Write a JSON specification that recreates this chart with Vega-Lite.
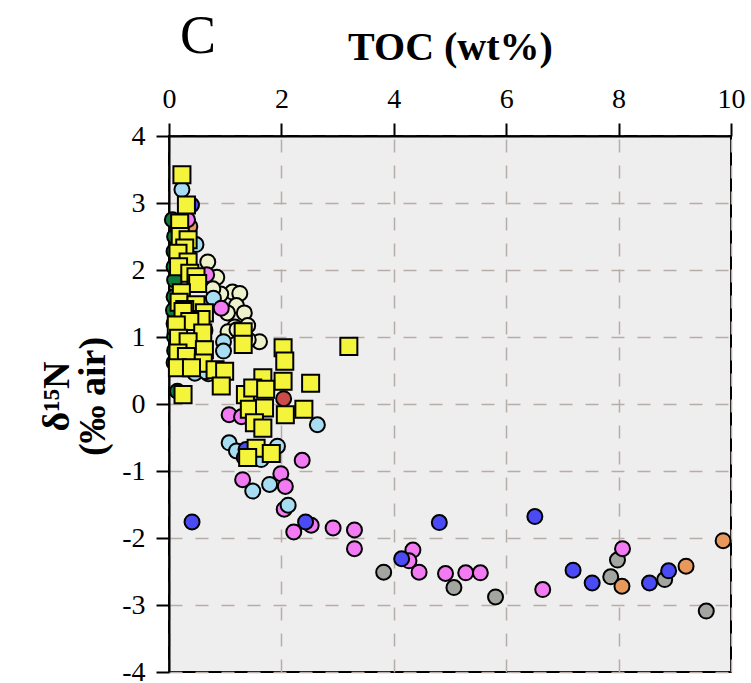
{
  "$schema": "https://vega.github.io/schema/vega-lite/v6.json",
  "width": 562,
  "height": 536,
  "autosize": "none",
  "padding": {"left": 169, "top": 136, "right": 20, "bottom": 11},
  "background": "white",
  "config": {
    "font": "Liberation Serif",
    "view": {"fill": "#eeeeee", "stroke": "black", "strokeWidth": 2}
  },
  "title": {
    "text": "C",
    "anchor": "start",
    "frame": "group",
    "font": "Liberation Serif",
    "fontSize": 54,
    "fontWeight": "normal",
    "color": "black",
    "dx": 11,
    "dy": 41
  },
  "datasets": {
    "circles": [
      {"toc": 0.69, "d15n": 2.12, "series": "P"},
      {"toc": 0.85, "d15n": 1.89, "series": "P"},
      {"toc": 1.13, "d15n": 1.67, "series": "P"},
      {"toc": 1.26, "d15n": 1.65, "series": "P"},
      {"toc": 0.92, "d15n": 1.64, "series": "P"},
      {"toc": 1.20, "d15n": 1.47, "series": "P"},
      {"toc": 1.34, "d15n": 1.36, "series": "P"},
      {"toc": 1.04, "d15n": 1.36, "series": "P"},
      {"toc": 1.17, "d15n": 1.15, "series": "P"},
      {"toc": 1.40, "d15n": 1.17, "series": "P"},
      {"toc": 1.61, "d15n": 0.93, "series": "P"},
      {"toc": 1.05, "d15n": 1.08, "series": "P"},
      {"toc": 1.21, "d15n": 1.11, "series": "P"},
      {"toc": 1.41, "d15n": 0.96, "series": "P"},
      {"toc": 0.78, "d15n": 1.72, "series": "P"},
      {"toc": 0.55, "d15n": 0.62, "series": "P"},
      {"toc": 0.70, "d15n": 0.45, "series": "P"},
      {"toc": 3.82, "d15n": -2.51, "series": "G"},
      {"toc": 5.07, "d15n": -2.74, "series": "G"},
      {"toc": 5.81, "d15n": -2.88, "series": "G"},
      {"toc": 7.86, "d15n": -2.58, "series": "G"},
      {"toc": 7.98, "d15n": -2.33, "series": "G"},
      {"toc": 8.82, "d15n": -2.62, "series": "G"},
      {"toc": 9.56, "d15n": -3.09, "series": "G"},
      {"toc": 0.37, "d15n": 2.65, "series": "O"},
      {"toc": 9.86, "d15n": -2.04, "series": "O"},
      {"toc": 9.20, "d15n": -2.42, "series": "O"},
      {"toc": 8.06, "d15n": -2.72, "series": "O"},
      {"toc": 0.23, "d15n": 3.20, "series": "L"},
      {"toc": 0.48, "d15n": 2.38, "series": "L"},
      {"toc": 0.79, "d15n": 1.58, "series": "L"},
      {"toc": 0.97, "d15n": 0.93, "series": "L"},
      {"toc": 0.97, "d15n": 0.79, "series": "L"},
      {"toc": 0.46, "d15n": 0.46, "series": "L"},
      {"toc": 0.66, "d15n": 0.48, "series": "L"},
      {"toc": 2.64, "d15n": -0.31, "series": "L"},
      {"toc": 1.07, "d15n": -0.58, "series": "L"},
      {"toc": 1.93, "d15n": -0.63, "series": "L"},
      {"toc": 1.64, "d15n": -0.83, "series": "L"},
      {"toc": 1.49, "d15n": -1.30, "series": "L"},
      {"toc": 1.79, "d15n": -1.20, "series": "L"},
      {"toc": 1.20, "d15n": -0.70, "series": "L"},
      {"toc": 0.67, "d15n": 1.93, "series": "K"},
      {"toc": 0.93, "d15n": 1.43, "series": "K"},
      {"toc": 0.64, "d15n": 1.10, "series": "K"},
      {"toc": 0.33, "d15n": 2.75, "series": "K"},
      {"toc": 1.07, "d15n": -0.16, "series": "K"},
      {"toc": 1.29, "d15n": -0.19, "series": "K"},
      {"toc": 1.34, "d15n": -0.80, "series": "K"},
      {"toc": 2.37, "d15n": -0.84, "series": "K"},
      {"toc": 1.31, "d15n": -1.13, "series": "K"},
      {"toc": 1.99, "d15n": -1.04, "series": "K"},
      {"toc": 2.07, "d15n": -1.23, "series": "K"},
      {"toc": 2.05, "d15n": -1.57, "series": "K"},
      {"toc": 2.53, "d15n": -1.81, "series": "K"},
      {"toc": 2.22, "d15n": -1.91, "series": "K"},
      {"toc": 2.92, "d15n": -1.85, "series": "K"},
      {"toc": 3.30, "d15n": -1.88, "series": "K"},
      {"toc": 3.30, "d15n": -2.16, "series": "K"},
      {"toc": 4.34, "d15n": -2.18, "series": "K"},
      {"toc": 4.27, "d15n": -2.34, "series": "K"},
      {"toc": 4.45, "d15n": -2.51, "series": "K"},
      {"toc": 4.92, "d15n": -2.53, "series": "K"},
      {"toc": 5.28, "d15n": -2.52, "series": "K"},
      {"toc": 5.54, "d15n": -2.52, "series": "K"},
      {"toc": 6.65, "d15n": -2.77, "series": "K"},
      {"toc": 8.07, "d15n": -2.16, "series": "K"},
      {"toc": 2.12, "d15n": -1.51, "series": "L"},
      {"toc": 0.40, "d15n": 2.97, "series": "B"},
      {"toc": 1.37, "d15n": -0.68, "series": "B"},
      {"toc": 0.41, "d15n": -1.76, "series": "B"},
      {"toc": 2.43, "d15n": -1.76, "series": "B"},
      {"toc": 4.81, "d15n": -1.77, "series": "B"},
      {"toc": 6.51, "d15n": -1.68, "series": "B"},
      {"toc": 4.14, "d15n": -2.31, "series": "B"},
      {"toc": 7.19, "d15n": -2.48, "series": "B"},
      {"toc": 7.53, "d15n": -2.67, "series": "B"},
      {"toc": 8.55, "d15n": -2.67, "series": "B"},
      {"toc": 8.89, "d15n": -2.49, "series": "B"},
      {"toc": 0.06, "d15n": 2.75, "series": "D"},
      {"toc": 0.10, "d15n": 2.50, "series": "D"},
      {"toc": 0.09, "d15n": 2.28, "series": "D"},
      {"toc": 0.09, "d15n": 2.05, "series": "D"},
      {"toc": 0.10, "d15n": 1.85, "series": "D"},
      {"toc": 0.09, "d15n": 1.60, "series": "D"},
      {"toc": 0.08, "d15n": 1.40, "series": "D"},
      {"toc": 0.09, "d15n": 1.20, "series": "D"},
      {"toc": 0.10, "d15n": 1.00, "series": "D"},
      {"toc": 0.10, "d15n": 0.80, "series": "D"},
      {"toc": 0.09, "d15n": 0.62, "series": "D"},
      {"toc": 0.15, "d15n": 0.19, "series": "D"},
      {"toc": 2.04, "d15n": 0.08, "series": "R"}
    ],
    "squares": [
      {"toc": 0.23, "d15n": 3.42},
      {"toc": 0.31, "d15n": 2.97},
      {"toc": 0.19, "d15n": 2.70},
      {"toc": 0.20, "d15n": 2.50},
      {"toc": 0.34, "d15n": 2.45},
      {"toc": 0.28, "d15n": 2.33},
      {"toc": 0.16, "d15n": 2.25},
      {"toc": 0.34, "d15n": 2.12},
      {"toc": 0.17, "d15n": 2.05},
      {"toc": 0.37, "d15n": 1.95},
      {"toc": 0.48, "d15n": 1.90},
      {"toc": 0.51, "d15n": 1.80},
      {"toc": 0.22, "d15n": 1.66},
      {"toc": 0.18, "d15n": 1.52},
      {"toc": 0.48, "d15n": 1.48},
      {"toc": 0.28, "d15n": 1.41},
      {"toc": 0.25, "d15n": 1.38},
      {"toc": 0.63, "d15n": 1.36},
      {"toc": 0.57, "d15n": 1.26},
      {"toc": 0.37, "d15n": 1.23},
      {"toc": 0.13, "d15n": 1.18},
      {"toc": 0.60, "d15n": 1.06},
      {"toc": 0.17, "d15n": 0.98},
      {"toc": 0.34, "d15n": 0.93},
      {"toc": 0.63, "d15n": 0.81},
      {"toc": 0.16, "d15n": 0.76},
      {"toc": 0.31, "d15n": 0.71},
      {"toc": 0.61, "d15n": 0.61},
      {"toc": 0.15, "d15n": 0.54},
      {"toc": 0.40, "d15n": 0.54},
      {"toc": 0.82, "d15n": 0.51},
      {"toc": 0.99, "d15n": 0.49},
      {"toc": 0.93, "d15n": 0.27},
      {"toc": 1.32, "d15n": 1.08},
      {"toc": 1.32, "d15n": 0.89},
      {"toc": 0.25, "d15n": 0.14},
      {"toc": 1.36, "d15n": 0.14},
      {"toc": 2.03, "d15n": 0.84},
      {"toc": 2.06, "d15n": 0.64},
      {"toc": 3.20, "d15n": 0.86},
      {"toc": 1.67, "d15n": 0.39},
      {"toc": 2.03, "d15n": 0.34},
      {"toc": 2.52, "d15n": 0.31},
      {"toc": 1.49, "d15n": 0.24},
      {"toc": 1.72, "d15n": 0.22},
      {"toc": 1.43, "d15n": -0.08},
      {"toc": 1.70, "d15n": -0.06},
      {"toc": 2.07, "d15n": -0.16},
      {"toc": 2.40, "d15n": -0.08},
      {"toc": 1.52, "d15n": -0.28},
      {"toc": 1.67, "d15n": -0.36},
      {"toc": 1.55, "d15n": -0.66},
      {"toc": 1.82, "d15n": -0.74},
      {"toc": 1.40, "d15n": -0.80}
    ]
  },
  "encoding": {
    "x": {
      "field": "toc",
      "type": "quantitative",
      "scale": {"domain": [0, 10], "nice": false, "zero": false},
      "axis": {
        "orient": "top",
        "title": "TOC (wt%)",
        "values": [0, 2, 4, 6, 8, 10],
        "labelExpr": "'' + datum.value",
        "titleFont": "Liberation Serif",
        "titleFontSize": 40,
        "titleFontWeight": "bold",
        "titleColor": "black",
        "titlePadding": 18,
        "labelFont": "Liberation Serif",
        "labelFontSize": 28,
        "labelColor": "black",
        "labelPadding": 10,
        "labelFlush": false,
        "labelOverlap": false,
        "tickSize": 13,
        "tickWidth": 2,
        "tickColor": "black",
        "domainColor": "black",
        "domainWidth": 2,
        "grid": true,
        "gridColor": "#b7aca8",
        "gridWidth": 1.5,
        "gridDash": [13, 13]
      }
    },
    "y": {
      "field": "d15n",
      "type": "quantitative",
      "scale": {"domain": [-4, 4], "nice": false, "zero": false},
      "axis": {
        "orient": "left",
        "title": ["δ¹⁵N", "(‰ air)"],
        "values": [-4, -3, -2, -1, 0, 1, 2, 3, 4],
        "labelExpr": "'' + datum.value",
        "titleFont": "Liberation Serif",
        "titleFontSize": 38,
        "titleFontWeight": "bold",
        "titleColor": "black",
        "titlePadding": 9,
        "titleLineHeight": 36,
        "titleY": 260,
        "labelFont": "Liberation Serif",
        "labelFontSize": 28,
        "labelColor": "black",
        "labelPadding": 11,
        "labelFlush": false,
        "labelOverlap": false,
        "tickSize": 13,
        "tickWidth": 2,
        "tickColor": "black",
        "domainColor": "black",
        "domainWidth": 2,
        "grid": true,
        "gridColor": "#b7aca8",
        "gridWidth": 1.5,
        "gridDash": [13, 13]
      }
    }
  },
  "layer": [
    {
      "data": {"name": "circles"},
      "mark": {"type": "point", "shape": "circle", "filled": true, "size": 225, "stroke": "black", "strokeWidth": 2, "opacity": 1},
      "encoding": {
        "color": {
          "field": "series",
          "type": "nominal",
          "legend": null,
          "scale": {
            "domain": ["P", "G", "O", "L", "K", "B", "D", "R"],
            "range": ["#eef2cc", "#a3a5a0", "#e9985c", "#a6ddf3", "#f27af2", "#4b4bf5", "#0e7a3c", "#cc4a4a"]
          }
        }
      }
    },
    {
      "data": {"name": "squares"},
      "mark": {"type": "point", "shape": "square", "filled": true, "size": 290, "fill": "#f4f43a", "stroke": "black", "strokeWidth": 2, "opacity": 1}
    }
  ]
}
